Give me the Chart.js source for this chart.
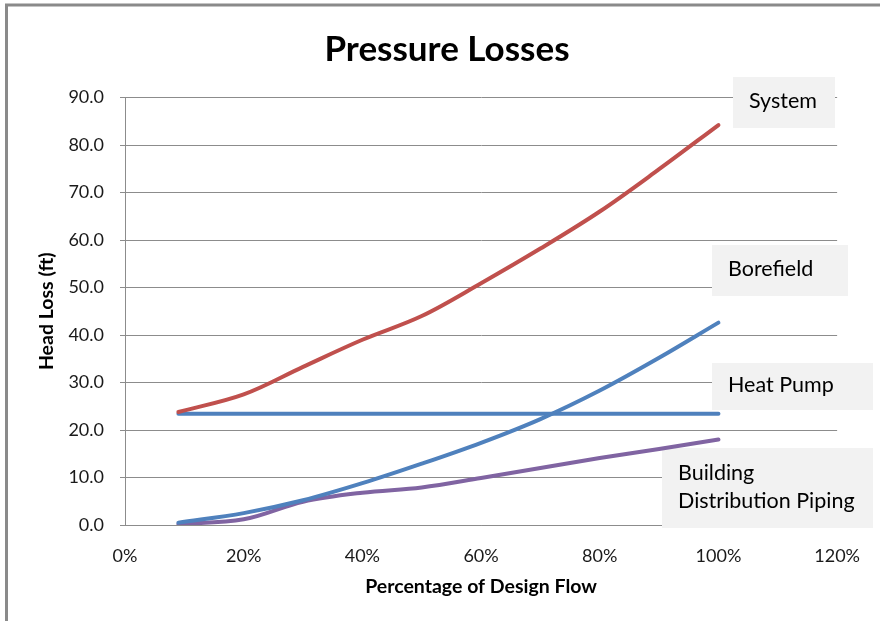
<!DOCTYPE html>
<html>
<head>
<meta charset="utf-8">
<title>Pressure Losses</title>
<script src="https://cdn.jsdelivr.net/npm/chart.js@4.4.1/dist/chart.umd.min.js"></script>
<style>
  html, body { margin: 0; padding: 0; background: #ffffff; }
  #wrap { width: 880px; height: 621px; position: relative; }
  canvas { display: block; }
</style>
</head>
<body>
<div id="wrap"><canvas id="chart" width="880" height="621"></canvas></div>
<script>
// Flow as a percentage of design flow
const flowPct = [9, 20, 30, 40, 50, 60, 70, 80, 90, 100];

// Head loss (ft) for each component
const systemLoss    = [23.8, 27.5, 33.3, 39.0, 44.0, 50.9, 58.2, 66.0, 74.9, 84.2];
const borefieldLoss = [0.5, 2.5, 5.2, 8.8, 12.9, 17.3, 22.3, 28.3, 35.2, 42.6];
const heatPumpLoss  = [23.4, 23.4, 23.4, 23.4, 23.4, 23.4, 23.4, 23.4, 23.4, 23.4];
const buildingLoss  = [0.2, 1.2, 4.9, 6.8, 7.9, 9.9, 12.0, 14.1, 16.0, 18.0];

// Series names and the text shown in each callout box
const seriesNames  = ['System', 'Borefield', 'Heat Pump', 'Building Distribution Piping'];
const calloutLines = [['System'], ['Borefield'], ['Heat Pump'], ['Building', 'Distribution Piping']];

// Axis ranges / steps
const xRange = { min: 0, max: 120, step: 20 };
const yRange = { min: 0, max: 90, step: 10 };

const FONT = 'Lato, "Open Sans", "DejaVu Sans", sans-serif';

// Callout box geometry (canvas pixels): x, y, width, height
const calloutBoxes = [
  { x: 733, y: 77,  w: 102, h: 51 },
  { x: 712, y: 245, w: 136, h: 51 },
  { x: 712, y: 363, w: 161, h: 47 },
  { x: 662, y: 448, w: 211, h: 80 }
];

const toPoints = (vals) => flowPct.map((x, i) => ({ x: x, y: vals[i] }));

const decorPlugin = {
  id: 'decor',
  beforeDraw(chart) {
    const ctx = chart.ctx;
    ctx.save();
    // outer frame (left and top edges)
    ctx.strokeStyle = '#8a8a8a';
    ctx.lineWidth = 3;
    ctx.beginPath();
    ctx.moveTo(6.5, 621);
    ctx.lineTo(6.5, 5);
    ctx.lineTo(880, 5);
    ctx.stroke();
    // chart title
    ctx.fillStyle = '#000000';
    ctx.font = 'bold 35px ' + FONT;
    ctx.textAlign = 'center';
    ctx.textBaseline = 'middle';
    ctx.fillText('Pressure Losses', 447, 50);
    ctx.restore();
  },
  beforeDatasetsDraw(chart) {
    const ctx = chart.ctx;
    ctx.save();
    calloutBoxes.forEach((b, i) => {
      ctx.fillStyle = '#f2f2f2';
      ctx.fillRect(b.x, b.y, b.w, b.h);
      ctx.fillStyle = '#000000';
      ctx.font = '21.5px ' + FONT;
      ctx.textAlign = 'left';
      ctx.textBaseline = 'middle';
      const lines = calloutLines[i];
      const lh = 28;
      const startY = b.y + b.h / 2 - (lines.length - 1) * lh / 2 - 1;
      lines.forEach((t, k) => ctx.fillText(t, b.x + 16, startY + k * lh));
    });
    ctx.restore();
  }
};

const lineStyle = {
  borderWidth: 4,
  pointRadius: 0,
  pointHoverRadius: 0,
  tension: 0.35,
  fill: false,
  borderCapStyle: 'round',
  borderJoinStyle: 'round'
};

new Chart(document.getElementById('chart'), {
  type: 'line',
  data: {
    datasets: [
      Object.assign({ label: seriesNames[0], data: toPoints(systemLoss),    borderColor: '#c0504d' }, lineStyle),
      Object.assign({ label: seriesNames[1], data: toPoints(borefieldLoss), borderColor: '#4f81bd' }, lineStyle),
      Object.assign({ label: seriesNames[2], data: toPoints(heatPumpLoss),  borderColor: '#4f81bd' }, lineStyle),
      Object.assign({ label: seriesNames[3], data: toPoints(buildingLoss),  borderColor: '#8064a2' }, lineStyle)
    ]
  },
  options: {
    responsive: false,
    animation: false,
    devicePixelRatio: 1,
    layout: { padding: { top: 97.5, right: 39, bottom: 0, left: 0 } },
    plugins: {
      legend: { display: false },
      title: { display: false },
      tooltip: { enabled: false }
    },
    scales: {
      x: {
        type: 'linear',
        min: xRange.min,
        max: xRange.max,
        afterFit(scale) { scale.height = 96; },
        ticks: {
          stepSize: xRange.step,
          padding: 20,
          color: '#1a1a1a',
          font: { family: FONT, size: 18 },
          maxRotation: 0,
          callback: (v) => v + '%'
        },
        grid: { display: false, drawTicks: false },
        border: { display: true, color: '#8c8c8c', width: 1 },
        title: {
          display: true,
          text: 'Percentage of Design Flow',
          color: '#000000',
          font: { family: FONT, size: 19.5, weight: 'bold' },
          padding: { top: 0, bottom: 23 }
        }
      },
      y: {
        type: 'linear',
        min: yRange.min,
        max: yRange.max,
        afterFit(scale) { scale.width = 125; },
        ticks: {
          stepSize: yRange.step,
          padding: 16,
          color: '#1a1a1a',
          font: { family: FONT, size: 18 },
          callback: (v) => Number(v).toFixed(1)
        },
        grid: { color: '#8c8c8c', lineWidth: 1, tickLength: 5, drawTicks: true },
        border: { display: true, color: '#8c8c8c', width: 1 },
        title: {
          display: true,
          text: 'Head Loss (ft)',
          color: '#000000',
          font: { family: FONT, size: 19.5, weight: 'bold' },
          padding: { top: 35, bottom: 0 }
        }
      }
    }
  },
  plugins: [decorPlugin]
});
</script>
</body>
</html>
